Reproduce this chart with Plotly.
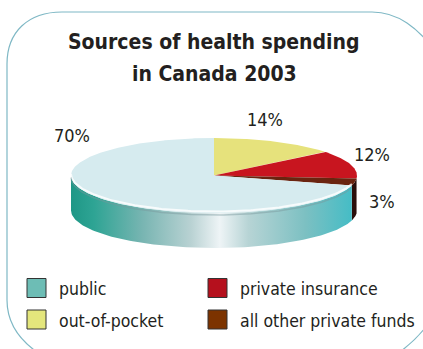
import numpy as np
import plotly.graph_objects as go

# ---- data ----
categories = ["public", "out-of-pocket", "private insurance", "all other private funds"]
shares = [70, 14, 12, 3]
share_labels = ["70%", "14%", "12%", "3%"]
title_lines = ["Sources of health spending", "in Canada 2003"]

# ---- styling ----
W, H = 423, 349
FONT = "DejaVu Sans Condensed, Liberation Sans, Arial, sans-serif"
TXT = "#231f20"
top_colors = {"public": "#d6ebef", "out-of-pocket": "#e6e27c",
              "private insurance": "#c8151f", "all other private funds": "#6a2410"}
side_colors = {"private insurance": "#7a0a12", "all other private funds": "#2a0e0a"}
legend_colors = {"public": "#6dbdb5", "out-of-pocket": "#e4e67c",
                 "private insurance": "#b5101d", "all other private funds": "#7c3300"}

cx, cy, rx, ry, depth = 214, 175.5, 143, 37.5, 35

# slice order drawn clockwise from 12 o'clock
order = ["out-of-pocket", "private insurance", "all other private funds", "public"]
val = dict(zip(categories, shares))
total = sum(shares)

def pt(theta_deg, dy=0.0):
    t = np.radians(theta_deg)
    return cx + rx * np.sin(t), cy - ry * np.cos(t) + dy

fig = go.Figure()

spans = {}
a = 0.0
for c in order:
    sweep = val[c] / total * 360
    spans[c] = (a, a + sweep)
    a += sweep

# ---- side faces (visible front: 90..270 deg) ----
for c in order:
    a0, a1 = spans[c]
    s0, s1 = max(a0, 90), min(a1, 270)
    if s1 <= s0:
        continue
    th = np.linspace(s0, s1, 120)
    xt, yt = pt(th)
    xb, yb = pt(th[::-1], depth)
    xs = np.concatenate([xt, xb, xt[:1]])
    ys = np.concatenate([yt, yb, yt[:1]])
    if c == "public":
        fig.add_trace(go.Scatter(
            x=xs, y=ys, mode="lines", fill="toself", line=dict(width=0),
            fillgradient=dict(type="horizontal", start=cx - rx, stop=cx + rx,
                              colorscale=[[0.0, "#1e9786"], [0.08, "#2ea494"],
                                          [0.25, "#78b5b2"], [0.42, "#b9d2d3"],
                                          [0.52, "#eef4f6"], [0.62, "#b7d4d5"],
                                          [0.82, "#7cc0c2"], [1.0, "#3fbcc6"]]),
            hoverinfo="skip", showlegend=False))
    else:
        fig.add_trace(go.Scatter(
            x=xs, y=ys, mode="lines", fill="toself", line=dict(width=0),
            fillcolor=side_colors[c], hoverinfo="skip", showlegend=False))

# ---- top faces ----
for c in order:
    a0, a1 = spans[c]
    th = np.linspace(a0, a1, max(6, int((a1 - a0) * 2)))
    x_arc, y_arc = pt(th)
    xs = np.concatenate([[cx], x_arc, [cx]])
    ys = np.concatenate([[cy], y_arc, [cy]])
    fig.add_trace(go.Scatter(
        x=xs, y=ys, mode="lines", fill="toself", line=dict(width=0),
        fillcolor=top_colors[c], hoverinfo="skip", showlegend=False))

# rim highlight on the front of the top face
th = np.linspace(spans["public"][0], 270, 150)
xr, yr = pt(th, -1.5)
fig.add_trace(go.Scatter(x=xr, y=yr, mode="lines",
                         line=dict(color="rgba(255,255,255,0.8)", width=2),
                         hoverinfo="skip", showlegend=False))
xr, yr = pt(th, 2)
fig.add_trace(go.Scatter(x=xr, y=yr, mode="lines",
                         line=dict(color="rgba(120,150,155,0.45)", width=1.5),
                         hoverinfo="skip", showlegend=False))

# ---- annotations ----
ann = []
ann.append(dict(x=214, y=42, text="<b>" + title_lines[0] + "</b>", showarrow=False,
                font=dict(family=FONT, size=21, color=TXT), xanchor="center", yanchor="middle"))
ann.append(dict(x=214, y=74, text="<b>" + title_lines[1] + "</b>", showarrow=False,
                font=dict(family=FONT, size=21, color=TXT), xanchor="center", yanchor="middle"))

label_pos = {"public": (72, 135), "out-of-pocket": (265, 119),
             "private insurance": (372, 154), "all other private funds": (382, 201)}
for c, lab in zip(categories, share_labels):
    x, y = label_pos[c]
    ann.append(dict(x=x, y=y, text=lab, showarrow=False,
                    font=dict(family=FONT, size=18, color=TXT),
                    xanchor="center", yanchor="middle"))

shapes = []
shapes.append(dict(type="path",
                   path="M 7,300 L 7,64 C 7,32 28,12 62,12 L 372,12 C 398,12 418,28 436,52 "
                        "L 440,300 C 432,325 412,345 388,360 L 50,360 C 22,345 7,325 7,300 Z",
                   line=dict(color="#7fb8c5", width=1.2), xref="x", yref="y", layer="below"))

legend_pos = {"public": (27, 288), "out-of-pocket": (27, 319.5),
              "private insurance": (208, 288), "all other private funds": (208, 319.5)}
for c in categories:
    x, y = legend_pos[c]
    shapes.append(dict(type="rect", x0=x, x1=x + 19, y0=y - 9.5, y1=y + 9.5,
                       fillcolor=legend_colors[c], line=dict(color="#333333", width=1),
                       xref="x", yref="y"))
    ann.append(dict(x=x + 30, y=y + 1, text=c, showarrow=False, xanchor="left", yanchor="middle",
                    font=dict(family=FONT, size=17.5, color=TXT)))

fig.update_layout(
    width=W, height=H, margin=dict(l=0, r=0, t=0, b=0),
    paper_bgcolor="white", plot_bgcolor="white",
    xaxis=dict(range=[0, W], visible=False, fixedrange=True),
    yaxis=dict(range=[H, 0], visible=False, fixedrange=True),
    annotations=ann, shapes=shapes, showlegend=False,
)

fig.write_html("out.html")
